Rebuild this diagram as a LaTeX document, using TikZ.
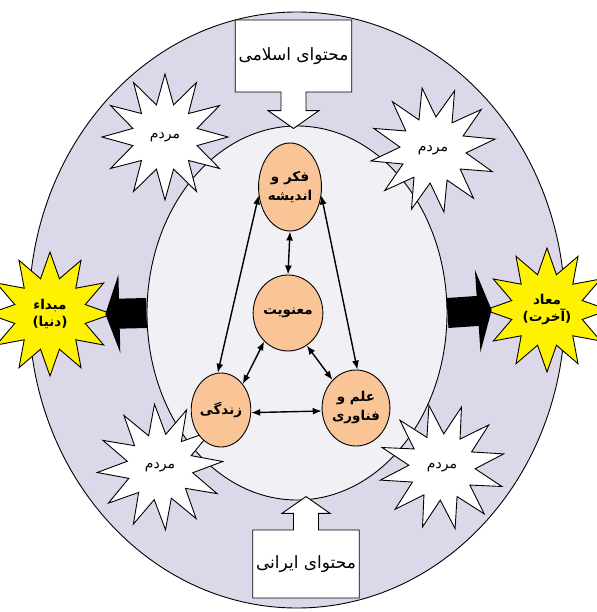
\documentclass[tikz,border=0pt]{standalone}
\usepackage{fontspec}
\usetikzlibrary{positioning,arrows.meta,shapes.geometric,shapes.arrows}
\newfontfamily\fafont[Script=Arabic]{DejaVu Sans}
\TeXXeTstate=1
\definecolor{ringcol}{RGB}{221,216,233}
\definecolor{innercol}{RGB}{241,241,245}
\definecolor{ovalcol}{RGB}{249,196,150}

\begin{document}
\begin{tikzpicture}[x=1pt,y=-1pt,>=Latex,line width=0.9pt,
  topic/.style={ellipse,draw,fill=ovalcol,inner sep=0pt,font=\fafont\bfseries\fontsize{13.5}{15}\selectfont,align=center},
  people/.style={star,star points=12,star point ratio=1.9,draw,fill=white,minimum size=126pt,inner sep=0pt,font=\fafont\fontsize{14}{16}\selectfont},
  edgestar/.style={star,star points=12,star point ratio=1.7,draw,fill=yellow,minimum size=124pt,inner sep=0pt,font=\fafont\bfseries\fontsize{13.5}{17}\selectfont,align=center},
  content/.style={arrow box,draw,fill=white,font=\fafont\fontsize{17}{20}\selectfont,arrow box north arrow=-1pt,arrow box south arrow=-1pt,
    arrow box east arrow=-1pt,arrow box west arrow=-1pt,arrow box shaft width=25pt,arrow box head extend=13pt,
    arrow box head indent=0pt,arrow box tip angle=110},
  link/.style={{Latex[length=9pt,width=7pt]}-{Latex[length=9pt,width=7pt]},line width=1.4pt}]
  \useasboundingbox (0,0) rectangle (596,612);
  % two rings
  \node[ellipse,draw,fill=ringcol,minimum width=536pt,minimum height=596pt] (ring) at (297,310) {};
  \node[ellipse,draw,fill=innercol,minimum width=300pt,minimum height=374pt] (inner) at (297,313) {};
  % start and end
  \node[edgestar] (mabda) at (50,314) {\beginR مبداء\endR\\\beginR(دنیا)\endR};
  \node[edgestar] (maad) at (547,310) {\beginR معاد\endR\\\beginR(آخرت)\endR};
  \draw[line width=30pt,-{Triangle[length=14pt,width=78pt]}] (inner.west) -- ([xshift=-8pt]mabda.east);
  \draw[line width=30pt,-{Triangle[length=14pt,width=82pt]}] (inner.east) -- ([xshift=8pt]maad.west);
  % people
  \node[people] (p1) at (165,137) {\beginR مردم\endR};
  \node[people,shape border rotate=10] (p2) at (433,150) {\beginR مردم\endR};
  \node[people,shape border rotate=5] (p3) at (160,467) {\beginR مردم\endR};
  \node[people,shape border rotate=12] (p4) at (442,467) {\beginR مردم\endR};
  % contents
  \node[content,minimum width=107pt,minimum height=72pt,arrow box south arrow=36pt] (islam) at (293.5,56) {\beginR محتوای اسلامی\endR};
  \node[content,minimum width=102pt,minimum height=68pt,arrow box north arrow=33pt,arrow box head extend=11.5pt] (iran) at (306,564) {\beginR محتوای ایرانی\endR};
  % four topics
  \node[topic,minimum width=56pt,minimum height=88pt] (fikr) at (290,187) {\beginR فکر و\endR\\[4pt]\beginR اندیشه\endR};
  \node[topic,minimum width=64pt,minimum height=76pt] (manav) at (288,313) {\beginR معنویت\endR};
  \node[topic,minimum width=58pt,minimum height=74pt] (zendegi) at (221,410) {\beginR زندگی\endR};
  \node[topic,minimum width=60pt,minimum height=76pt] (elm) at (356,408) {\beginR علم و\endR\\[4pt]\beginR فناوری\endR};
  \draw[link] (fikr.south) -- (manav.north);
  \draw[link] (fikr.195) -- (zendegi.95);
  \draw[link] (fikr.345) -- (elm.88);
  \draw[link] (manav.230) -- (zendegi.50);
  \draw[link] (manav.300) -- (elm.130);
  \draw[link] (zendegi.-5) -- (elm.185);
\end{tikzpicture}
\end{document}
